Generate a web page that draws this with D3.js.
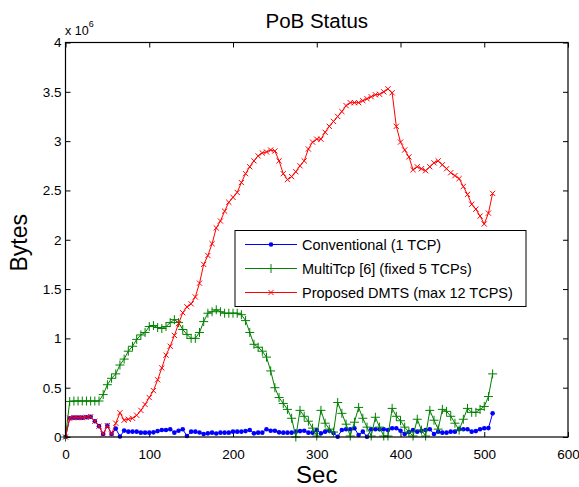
<!DOCTYPE html>
<html>
<head>
<meta charset="utf-8">
<script src="https://cdn.jsdelivr.net/npm/d3@7"></script>
<style>
  body { margin: 0; background: #fff; }
  svg { font-family: "Liberation Sans", Arial, Helvetica, sans-serif; }
</style>
</head>
<body>
<svg id="chart" width="579" height="487"></svg>
<script>
// time stamps (sec)
const secs = [0,5,10,15,20,25,30,35,40,45,50,55,60,65,70,75,80,85,90,95,
  100,105,110,115,120,125,130,135,140,145,150,155,160,165,170,175,180,185,190,195,
  200,205,210,215,220,225,230,235,240,245,250,255,260,265,270,275,280,285,290,295,
  300,305,310,315,320,325,330,335,340,345,350,355,360,365,370,375,380,385,390,395,
  400,405,410,415,420,425,430,435,440,445,450,455,460,465,470,475,480,485,490,495,
  500,505,510]

// PoB bytes, in units of 10^6
const conventional = [0,0.19,0.196,0.196,0.196,0.2,0.206,0.16,0.11,0.03,0.115,0.03,0.085,0.005,0.065,0.054,0.054,0.054,0.044,0.044,
  0.044,0.047,0.06,0.071,0.071,0.078,0.044,0.064,0.078,0.01,0.054,0.054,0.045,0.03,0.037,0.044,0.035,0.044,0.044,0.044,
  0.054,0.054,0.054,0.06,0.071,0.037,0.044,0.044,0.078,0.064,0.064,0.047,0.044,0.044,0.044,0.054,0.06,0.064,0.044,0.044,
  0.071,0.037,0.054,0.064,0.04,0.003,0.071,0.078,0.078,0.088,0.02,0.054,0.003,0.078,0.078,0.078,0.078,0.071,0.088,0.088,
  0.064,0.03,0.05,0.071,0.054,0.064,0.071,0.078,0.03,0.054,0.044,0.044,0.054,0.054,0.078,0.078,0.078,0.054,0.06,0.078,
  0.088,0.09,0.24]

const multiTcp = [0,0.36,0.365,0.365,0.365,0.365,0.365,0.365,0.365,0.43,0.53,0.595,0.64,0.73,0.79,0.87,0.92,0.99,1.035,1.06,
  1.12,1.13,1.11,1.10,1.12,1.16,1.19,1.16,1.09,1.04,1.00,1.00,1.06,1.17,1.255,1.27,1.29,1.27,1.255,1.255,
  1.255,1.255,1.24,1.18,1.06,0.94,0.91,0.87,0.81,0.67,0.50,0.40,0.34,0.28,0.19,0.00,0.27,0.21,0.16,0.09,
  0.01,0.27,0.14,0.08,0.05,0.35,0.24,0.13,0.01,0.15,0.30,0.19,0.10,0.01,0.20,0.10,0.01,0.01,0.29,0.21,
  0.165,0.10,0.05,0.01,0.18,0.07,0.01,0.27,0.17,0.08,0.28,0.26,0.21,0.14,0.07,0.18,0.29,0.25,0.25,0.28,
  0.31,0.41,0.64]

const proposed = [0,0.19,0.196,0.196,0.196,0.2,0.206,0.16,0.11,0.03,0.115,0.03,0.14,0.246,0.17,0.18,0.19,0.22,0.27,0.33,
  0.40,0.47,0.58,0.70,0.83,0.92,1.03,1.15,1.26,1.32,1.35,1.42,1.56,1.75,1.84,1.96,2.12,2.19,2.29,2.38,
  2.43,2.48,2.58,2.67,2.74,2.80,2.85,2.88,2.89,2.91,2.90,2.80,2.67,2.61,2.64,2.69,2.75,2.80,2.92,2.99,
  3.02,3.02,3.09,3.15,3.20,3.25,3.30,3.36,3.39,3.39,3.39,3.41,3.43,3.45,3.47,3.475,3.50,3.53,3.49,3.15,
  2.99,2.91,2.84,2.71,2.74,2.72,2.70,2.74,2.78,2.80,2.76,2.72,2.68,2.65,2.62,2.54,2.46,2.36,2.31,2.24,
  2.16,2.27,2.47]

const xTicks = [0,100,200,300,400,500,600]
const yTicks = [0,0.5,1,1.5,2,2.5,3,3.5,4]

const seriesNames = ["Conventional (1 TCP)", "MultiTcp [6] (fixed 5 TCPs)", "Proposed DMTS (max 12 TCPS)"]
const seriesData = [conventional, multiTcp, proposed]
const colors = ["#0000ff", "#008000", "#ff0000"]
const markers = ["dot", "plus", "cross"]

const margin = {left: 65.5, right: 11, top: 42.5, bottom: 50}
const W = 579, H = 487
const x = d3.scaleLinear().domain([0, 600]).range([margin.left, W - margin.right])
const y = d3.scaleLinear().domain([0, 4]).range([H - margin.bottom, margin.top])

const svg = d3.select("#chart")

// ticks (inward, all four sides)
const axB = svg.append("g").attr("transform", "translate(0," + y(0) + ")")
  .call(d3.axisBottom(x).tickValues(xTicks).tickSize(-5).tickSizeOuter(0).tickPadding(12))
const axL = svg.append("g").attr("transform", "translate(" + x(0) + ",0)")
  .call(d3.axisLeft(y).tickValues(yTicks).tickSize(-5).tickSizeOuter(0).tickPadding(4).tickFormat(d => d))
svg.append("g").attr("transform", "translate(0," + y(4) + ")")
  .call(d3.axisTop(x).tickValues(xTicks).tickSize(-5).tickSizeOuter(0).tickFormat(""))
svg.append("g").attr("transform", "translate(" + x(600) + ",0)")
  .call(d3.axisRight(y).tickValues(yTicks).tickSize(-5).tickSizeOuter(0).tickFormat(""))

svg.selectAll(".domain").remove()
svg.selectAll(".tick line").attr("stroke", "#000")
svg.selectAll(".tick text").attr("font-size", 13.5).attr("fill", "#000")
  .attr("font-family", "'Liberation Sans', Arial, sans-serif")

// data lines
const line = d3.line().x((d, i) => x(secs[i])).y(d => y(d))

function drawMarker(g, type, color) {
  if (type === "dot") {
    g.append("circle").attr("r", 2.3).attr("fill", color)
  } else if (type === "plus") {
    g.append("path").attr("d", "M-4.5,0H4.5M0,-4.5V4.5").attr("stroke", color).attr("stroke-width", 1).attr("fill", "none")
  } else {
    g.append("path").attr("d", "M-2.6,-2.6L2.6,2.6M-2.6,2.6L2.6,-2.6").attr("stroke", color).attr("stroke-width", 1).attr("fill", "none")
  }
}

const plot = svg.append("g")
seriesData.forEach((vals, k) => {
  plot.append("path")
    .attr("d", line(vals))
    .attr("fill", "none")
    .attr("stroke", colors[k])
    .attr("stroke-width", 1)
  vals.forEach((v, i) => {
    const g = plot.append("g").attr("transform", "translate(" + x(secs[i]) + "," + y(v) + ")")
    drawMarker(g, markers[k], colors[k])
  })
})

// box
svg.append("rect")
  .attr("x", x(0)).attr("y", y(4))
  .attr("width", x(600) - x(0)).attr("height", y(0) - y(4))
  .attr("fill", "none").attr("stroke", "#000").attr("stroke-width", 1.2)

// legend
const lg = svg.append("g").attr("transform", "translate(235,230.5)")
lg.append("rect").attr("width", 291).attr("height", 76)
  .attr("fill", "#fff").attr("stroke", "#000").attr("stroke-width", 1)
seriesNames.forEach((name, k) => {
  const ry = 14 + k * 24
  lg.append("line").attr("x1", 10).attr("x2", 62).attr("y1", ry).attr("y2", ry)
    .attr("stroke", colors[k]).attr("stroke-width", 1)
  const g = lg.append("g").attr("transform", "translate(36," + ry + ")")
  drawMarker(g, markers[k], colors[k])
  lg.append("text").attr("x", 67).attr("y", ry + 5)
    .attr("font-size", 14.5).attr("fill", "#000").text(name)
})

// titles
svg.append("text").attr("x", (x(0) + x(600)) / 2).attr("y", 28)
  .attr("text-anchor", "middle").attr("font-size", 20.5).text("PoB Status")
svg.append("text").attr("x", (x(0) + x(600)) / 2).attr("y", 483)
  .attr("text-anchor", "middle").attr("font-size", 24).text("Sec")
svg.append("text").attr("transform", "translate(27," + (y(2) + 3) + ") rotate(-90)")
  .attr("text-anchor", "middle").attr("font-size", 23).text("Bytes")

// exponent label
const ex = svg.append("text").attr("x", 65).attr("y", 35).attr("font-size", 12.5)
ex.append("tspan").text("x 10")
ex.append("tspan").attr("dy", -8).attr("font-size", 9).text("6")
</script>
</body>
</html>
